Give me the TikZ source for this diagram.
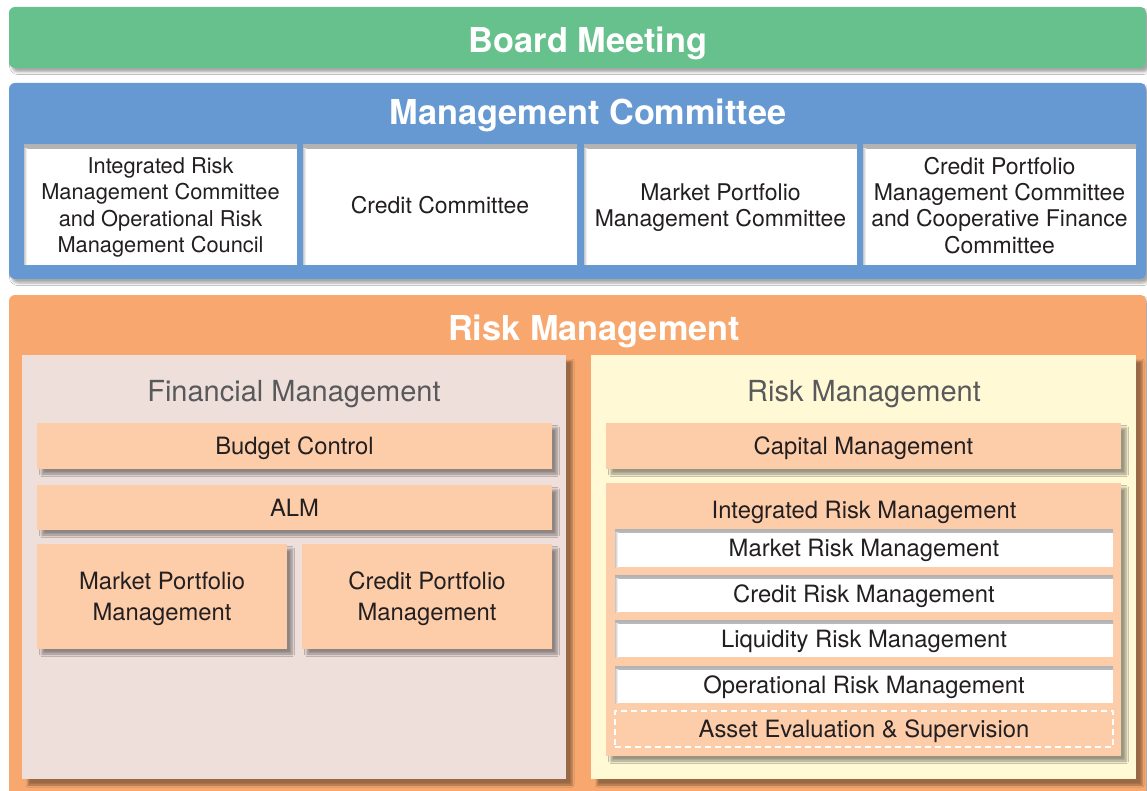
\documentclass[tikz,border=0pt]{standalone}
\usepackage{fontspec}
\setmainfont{TeX Gyre Heros}
\usetikzlibrary{shadows.blur}
\definecolor{cgreen}{HTML}{67C18D}
\definecolor{cblue}{HTML}{6699D2}
\definecolor{corange}{HTML}{F8A86F}
\definecolor{cpink}{HTML}{EEDFDB}
\definecolor{cyellow}{HTML}{FFF9D6}
\definecolor{cpeach}{HTML}{FDCDAA}
\definecolor{ctext}{HTML}{231F20}
\definecolor{cgray}{HTML}{58595B}
\tikzset{
  blk/.style={inner sep=0pt, outer sep=0pt, anchor=north west, align=center, text=ctext,
    text depth=0pt, font=\fontsize{23.8pt}{26.3pt}\selectfont},
  mcfont/.style={font=\fontsize{23pt}{26.3pt}\selectfont},
  bigshadow/.style={blur shadow={shadow xshift=3pt, shadow yshift=-4pt, shadow blur radius=2.5pt, shadow blur steps=6, shadow opacity=35}},
  boxshadow/.style={blur shadow={shadow xshift=5pt, shadow yshift=-5pt, shadow blur radius=2.5pt, shadow blur steps=6, shadow opacity=40}},
  panelshadow/.style={blur shadow={shadow xshift=6pt, shadow yshift=-6pt, shadow blur radius=2pt, shadow blur steps=5, shadow opacity=38}},
  band/.style={blk, rounded corners=6pt, bigshadow},
  pbox/.style={blk, fill=cpeach, boxshadow},
  wbox/.style={blk, fill=white,
    path picture={
      \shade[top color=black!30, bottom color=white] (path picture bounding box.north west) rectangle ([yshift=-3.5pt]path picture bounding box.north east);
      \shade[left color=black!22, right color=white] ([yshift=-3.5pt]path picture bounding box.north west) rectangle ([xshift=3pt]path picture bounding box.south west);
    }},
  dbox/.style={blk, fill=cpeach, draw=white, line width=1.5pt, dash pattern=on 6pt off 4pt},
  bigtitle/.style={inner sep=0pt, text=white, font=\fontsize{34.3pt}{40pt}\selectfont\bfseries},
  paneltitle/.style={inner sep=0pt, text=cgray, font=\fontsize{29pt}{32pt}\selectfont},
}
\begin{document}
\begin{tikzpicture}[x=1pt,y=-1pt]
\useasboundingbox (0,0) rectangle (1147,791);
\fill[white] (0,0) rectangle (1147,791);

% Board meeting
\node[band, fill=cgreen, minimum width=1137pt, minimum height=61pt] (board) at (9,7) {};
\node[bigtitle] (boardt) at (588,43) {Board Meeting};

% Management committee
\node[band, fill=cblue, minimum width=1137pt, minimum height=196pt] (mc) at (9,83) {};
\node[bigtitle] (mct) at (588,115) {Management Committee};
\node[wbox, minimum width=273pt, minimum height=120pt, font=\fontsize{21.8pt}{26.3pt}\selectfont] (mc1) at (24,145) {Integrated Risk\\Management Committee\\and Operational Risk\\Management Council};
\node[wbox, mcfont, minimum width=274pt, minimum height=120pt] (mc2) at (303,145) {Credit Committee};
\node[wbox, mcfont, minimum width=273pt, minimum height=120pt] (mc3) at (584,145) {Market Portfolio\\Management Committee};
\node[wbox, mcfont, minimum width=273pt, minimum height=120pt] (mc4) at (863,145) {Credit Portfolio\\Management Committee\\and Cooperative Finance\\Committee};

% Risk management
\node[band, fill=corange, minimum width=1137pt, minimum height=520pt] (rm) at (9,295) {};
\node[bigtitle] (rmt) at (594,331) {Risk Management};

% Financial management panel
\node[blk, fill=cpink, panelshadow, minimum width=544pt, minimum height=424pt] (fm) at (22,355) {};
\node[paneltitle] (fmt) at (294,394) {Financial Management};
\node[pbox, minimum width=515pt, minimum height=46pt] (budget) at (37,423) {Budget Control};
\node[pbox, minimum width=515pt, minimum height=45pt] (alm) at (37,485) {ALM};
\node[pbox, minimum width=250pt, minimum height=105pt, font=\fontsize{23.8pt}{31pt}\selectfont] (mpm) at (37,544) {Market Portfolio\\Management};
\node[pbox, minimum width=250pt, minimum height=105pt, font=\fontsize{23.8pt}{31pt}\selectfont] (cpm) at (302,544) {Credit Portfolio\\Management};

% Risk management panel
\node[blk, fill=cyellow, panelshadow, minimum width=545pt, minimum height=424pt] (rp) at (591,355) {};
\node[paneltitle] (rpt) at (864,394) {Risk Management};
\node[pbox, minimum width=515pt, minimum height=46pt] (capital) at (606,423) {Capital Management};
\node[pbox, minimum width=515pt, minimum height=273pt] (irm) at (606,483) {};
\node[inner sep=0pt, text=ctext, font=\fontsize{23.8pt}{26.3pt}\selectfont] (irmt) at (864,512) {Integrated Risk Management};
\node[wbox, minimum width=498pt, minimum height=38pt] (mrm) at (615,529) {Market Risk Management};
\node[wbox, minimum width=498pt, minimum height=37pt] (crm) at (615,575) {Credit Risk Management};
\node[wbox, minimum width=498pt, minimum height=37pt] (lrm) at (615,620) {Liquidity Risk Management};
\node[wbox, minimum width=498pt, minimum height=37pt] (orm) at (615,666) {Operational Risk Management};
\node[dbox, minimum width=498pt, minimum height=36pt] (aes) at (615,711) {Asset Evaluation \& Supervision};
\end{tikzpicture}
\end{document}
